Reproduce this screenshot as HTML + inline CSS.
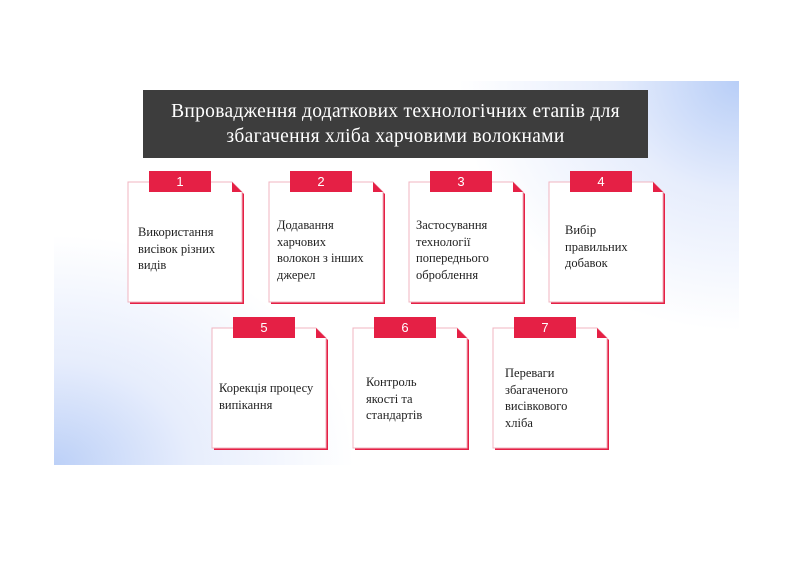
<!DOCTYPE html>
<html><head><meta charset="utf-8"><style>
body{margin:0;width:800px;height:565px;background:#fff;position:relative;overflow:hidden;font-family:"Liberation Serif",serif}
.slide{position:absolute;left:54px;top:81px;width:685px;height:384px;overflow:hidden;
background:radial-gradient(ellipse 300px 230px at 0% 100%,#bcd0f7 0%,rgba(210,222,250,.55) 45%,rgba(255,255,255,0) 100%),
radial-gradient(ellipse 280px 250px at 100% 0%,#b8cef7 0%,rgba(210,222,250,.55) 45%,rgba(255,255,255,0) 100%),#fff}
.title{position:absolute;left:143px;top:90px;width:505px;height:68px;background:#3d3d3d;color:#fff;font-size:19.5px;line-height:25px;text-align:center;padding-top:9px;box-sizing:border-box;letter-spacing:.3px}
.t{position:absolute;font-size:12.5px;line-height:16.5px;color:#222}
svg{position:absolute;left:0;top:0}
</style></head><body>
<div class="slide"></div>
<div class="title">Впровадження додаткових технологічних етапів для<br>збагачення хліба харчовими волокнами</div>
<svg width="800" height="565" font-family="Liberation Sans, sans-serif">
<defs>
<g id="c">
<path d="M2 2 H106 L116 12 V122 H2 Z" fill="#e52045"/>
<path d="M0 0 H104 L114 10 V120 H0 Z" fill="#fff" stroke="#f0b4c0" stroke-width="1"/>
<path d="M104 0 L104 10 L114 10 Z" fill="#e52045"/>
<rect x="21" y="-11" width="62" height="21" fill="#e52045"/>
</g>
</defs>
<g fill="#fff" font-size="13" text-anchor="middle">
<use href="#c" x="128" y="182"/><text x="180" y="186">1</text>
<use href="#c" x="269" y="182"/><text x="321" y="186">2</text>
<use href="#c" x="409" y="182"/><text x="461" y="186">3</text>
<use href="#c" x="549" y="182"/><text x="601" y="186">4</text>
<use href="#c" x="212" y="328"/><text x="264" y="332">5</text>
<use href="#c" x="353" y="328"/><text x="405" y="332">6</text>
<use href="#c" x="493" y="328"/><text x="545" y="332">7</text>
</g>
</svg>
<div class="t" style="left:138px;top:224px">Використання<br>висівок різних<br>видів</div>
<div class="t" style="left:277px;top:217px">Додавання<br>харчових<br>волокон з інших<br>джерел</div>
<div class="t" style="left:416px;top:217px">Застосування<br>технології<br>попереднього<br>оброблення</div>
<div class="t" style="left:565px;top:222px">Вибір<br>правильних<br>добавок</div>
<div class="t" style="left:219px;top:380px">Корекція процесу<br>випікання</div>
<div class="t" style="left:366px;top:374px">Контроль<br>якості та<br>стандартів</div>
<div class="t" style="left:505px;top:365px">Переваги<br>збагаченого<br>висівкового<br>хліба</div>
</body></html>
